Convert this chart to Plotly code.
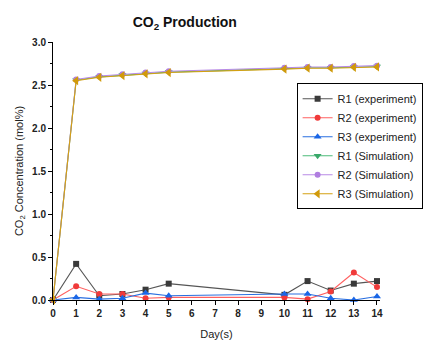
import plotly.graph_objects as go

days = [0, 1, 2, 3, 4, 5, 10, 11, 12, 13, 14]
r1_exp = [0.0, 0.42, 0.05, 0.07, 0.12, 0.19, 0.06, 0.22, 0.11, 0.19, 0.22]
r2_exp = [0.0, 0.16, 0.07, 0.07, 0.02, 0.03, 0.03, 0.01, 0.10, 0.32, 0.15]
r3_exp = [0.0, 0.03, 0.01, 0.02, 0.08, 0.05, 0.07, 0.07, 0.02, 0.0, 0.04]
r1_sim = [0.0, 2.555, 2.595, 2.615, 2.635, 2.65, 2.69, 2.70, 2.70, 2.71, 2.715]
r2_sim = [0.0, 2.565, 2.605, 2.625, 2.645, 2.66, 2.70, 2.71, 2.71, 2.72, 2.725]
r3_sim = [0.0, 2.55, 2.59, 2.61, 2.63, 2.645, 2.685, 2.695, 2.695, 2.705, 2.71]

series = [
    ("R1 (experiment)", r1_exp, "#555555", "#3a3a3a", "square", 6),
    ("R2 (experiment)", r2_exp, "#ff6060", "#f03a3a", "circle", 6),
    ("R3 (experiment)", r3_exp, "#2a6fe0", "#1a66e6", "triangle-up", 7),
    ("R1 (Simulation)", r1_sim, "#4cbb7a", "#3aa86a", "triangle-down", 7),
    ("R2 (Simulation)", r2_sim, "#b98ae6", "#b07ee0", "circle", 6),
    ("R3 (Simulation)", r3_sim, "#d4a012", "#d19a0a", "triangle-left", 8),
]

fig = go.Figure()
for name, ys, lc, mc, sym, ms in series:
    fig.add_trace(go.Scatter(
        x=days, y=ys, name=name, mode="lines+markers",
        line=dict(color=lc, width=1.1),
        marker=dict(symbol=sym, size=ms, color=mc),
        cliponaxis=False,
    ))

axis_font = dict(family="Arial, Liberation Sans", size=10, color="#222222", weight="bold")
fig.update_layout(
    width=423, height=336,
    margin=dict(l=45, r=51, t=34, b=44, autoexpand=False),
    paper_bgcolor="white", plot_bgcolor="white",
    title=dict(text="CO<sub>2</sub> Production", x=0.418, xanchor="center", y=0.958, yanchor="middle",
               font=dict(family="Arial, Liberation Sans", size=14, color="#111111", weight="bold")),
    font=dict(family="Arial, Liberation Sans", color="#222222"),
    legend=dict(x=0.745, y=0.84, xanchor="left", yanchor="top",
                bordercolor="black", borderwidth=1, bgcolor="white",
                font=dict(size=11, color="#222222"), tracegroupgap=0,
                itemwidth=30),
    showlegend=True,
)
fig.update_xaxes(
    range=[0, 14.13], tickmode="linear", tick0=0, dtick=1, automargin=False,
    showgrid=False, zeroline=False, showline=True, linecolor="black", linewidth=1,
    ticks="outside", ticklen=4, tickcolor="black", tickfont=axis_font,
    title=dict(text="Day(s)", font=dict(size=11, color="#222222"), standoff=12),
)
fig.update_yaxes(
    range=[0, 3.0], tickmode="linear", tick0=0, dtick=0.5, tickformat=".1f", automargin=False,
    showgrid=False, zeroline=False, showline=True, linecolor="black", linewidth=1,
    ticks="outside", ticklen=4, tickcolor="black", tickfont=axis_font,
    minor=dict(dtick=0.25, ticks="outside", ticklen=2, tickcolor="black"),
    title=dict(text="CO<sub>2</sub> Concentration (mol%)", font=dict(size=11, color="#222222"), standoff=6),
)

fig.write_html("out.html")
